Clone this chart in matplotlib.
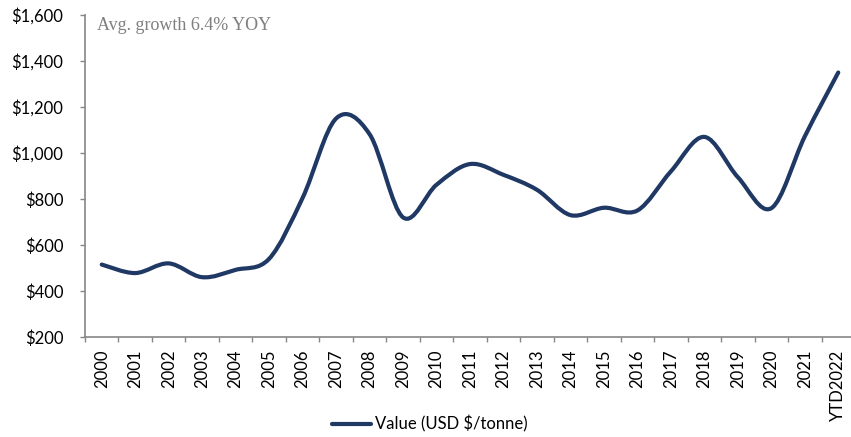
import numpy as np
import matplotlib
matplotlib.use("Agg")
import matplotlib.pyplot as plt
from matplotlib.path import Path
from matplotlib.patches import PathPatch
from matplotlib.lines import Line2D
from matplotlib.ticker import FuncFormatter, FixedLocator

categories = ["2000", "2001", "2002", "2003", "2004", "2005", "2006", "2007", "2008",
              "2009", "2010", "2011", "2012", "2013", "2014", "2015", "2016", "2017",
              "2018", "2019", "2020", "2021", "YTD2022"]
values = [515, 478, 520, 460, 492, 540, 805, 1150, 1082, 720, 862, 952, 905, 840,
          730, 762, 750, 920, 1070, 895, 760, 1072, 1350]
series_label = "Value (USD $/tonne)"
annotation = "Avg. growth 6.4% YOY"
y_ticks = [200, 400, 600, 800, 1000, 1200, 1400, 1600]

LINE_COLOR = "#1F3864"
AXIS_COLOR = "#868686"

plt.rcParams['font.family'] = ['Lato', 'DejaVu Sans']

fig = plt.figure(figsize=(8.51, 4.37), dpi=100)
ax = fig.add_axes([85 / 851, 1 - 337 / 437, 1 - 85 / 851, (337 - 15) / 437])

x = np.arange(len(values), dtype=float)
y = np.array(values, dtype=float)

# smoothed line (Excel-like), built as cubic Bezier path through the data points
pts = np.column_stack([x, y])
ext = np.vstack([pts[0], pts, pts[-1]])
verts = [tuple(pts[0])]
codes = [Path.MOVETO]
for i in range(len(pts) - 1):
    p0, p1, p2, p3 = ext[i], ext[i + 1], ext[i + 2], ext[i + 3]
    c1 = p1 + (p2 - p0) / 6.0
    c2 = p2 - (p3 - p1) / 6.0
    verts += [tuple(c1), tuple(c2), tuple(p2)]
    codes += [Path.CURVE4, Path.CURVE4, Path.CURVE4]
patch = PathPatch(Path(verts, codes), facecolor="none", edgecolor=LINE_COLOR,
                  lw=3.0, capstyle="round", joinstyle="round", zorder=3)
ax.add_patch(patch)

ax.set_xlim(-0.5, 22.5 - 4.0 / 33.47)
ax.set_ylim(200, 1600)

ax.set_yticks(y_ticks)
ax.yaxis.set_major_formatter(FuncFormatter(lambda v, p: "${:,.0f}".format(v)))

ax.set_xticks(x)
ax.set_xticklabels(categories, rotation=90, fontsize=12, color="#000000")
ax.xaxis.set_minor_locator(FixedLocator(np.arange(-0.5, 23.0, 1.0)))
ax.tick_params(axis="x", which="major", length=0, pad=9)
ax.tick_params(axis="x", which="minor", length=3.6, width=1.0, color=AXIS_COLOR, direction="out")
ax.tick_params(axis="y", which="major", length=3.6, width=1.0, color=AXIS_COLOR,
               direction="out", labelsize=12, pad=12)

for s in ["top", "right"]:
    ax.spines[s].set_visible(False)
for s in ["left", "bottom"]:
    ax.spines[s].set_color(AXIS_COLOR)
    ax.spines[s].set_linewidth(1.2)

fig.text(97 / 851, 1 - 25 / 437, annotation, family=["Liberation Serif", "DejaVu Serif"],
         fontsize=13, color="#7F7F7F", va="center", ha="left")

handle = Line2D([], [], color=LINE_COLOR, lw=3.0, solid_capstyle="round")
fig.legend([handle], [series_label], loc="center", bbox_to_anchor=(0.505, 1 - 424 / 437),
           frameon=False, fontsize=12, handlelength=2.35, handletextpad=0.2)

fig.savefig("out.png", dpi=100)
